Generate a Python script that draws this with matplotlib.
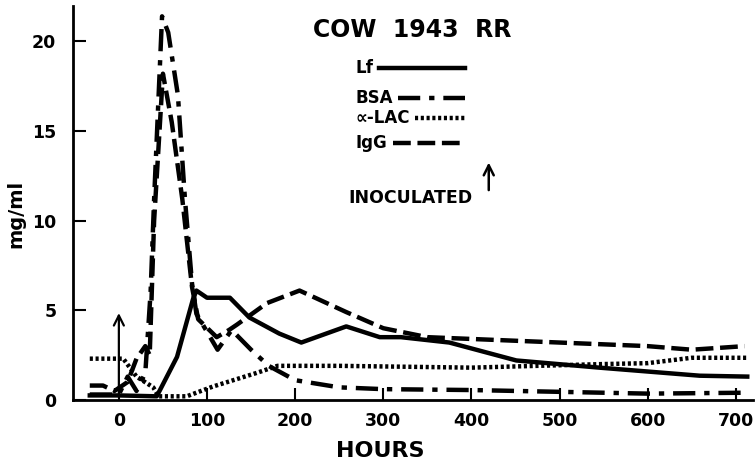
import matplotlib.pyplot as plt

# values (hours, mg/ml)
lf_h = [-33, 0, 43, 66, 84, 88, 100, 126, 148, 182, 207, 258, 296, 320, 375, 451, 545, 659, 713]
lf_v = [0.25, 0.25, 0.2, 2.4, 5.6, 6.1, 5.7, 5.7, 4.6, 3.7, 3.2, 4.1, 3.5, 3.5, 3.2, 2.2, 1.8, 1.35, 1.3]

bsa_h = [-33, 0, 10, 20, 30, 36, 40, 49, 56, 67, 75, 83, 88, 112, 128, 150, 170, 200, 250, 300, 400, 500, 600, 710]
bsa_v = [0.3, 0.3, 1.3, 0.5, 1.5, 6.0, 11.2, 21.4, 20.5, 17.0, 11.2, 6.5, 4.8, 2.8, 3.9, 2.8, 1.9, 1.1, 0.7, 0.6, 0.55, 0.45, 0.35, 0.4]

lac_h = [-33, 5, 20, 39, 45, 77, 107, 156, 180, 250, 400, 550, 600, 650, 713]
lac_v = [2.3, 2.3, 1.3, 0.7, 0.2, 0.2, 0.75, 1.5, 1.9, 1.9, 1.8, 2.0, 2.05, 2.35, 2.35]

igg_h = [-33, -18, -5, 10, 20, 30, 35, 40, 50, 60, 72, 83, 90, 111, 125, 134, 168, 205, 258, 300, 350, 400, 500, 600, 650, 710]
igg_v = [0.8, 0.8, 0.5, 1.0, 2.3, 3.0, 2.5, 10.0, 18.2, 15.5, 11.2, 6.3, 4.5, 3.5, 3.9, 4.2, 5.4, 6.1, 4.9, 4.0, 3.5, 3.4, 3.2, 3.0, 2.8, 3.0]

inoc_time = 0
inoc_height = 5

labels = ['Lf', 'BSA', '\u221d-LAC', 'IgG']

fig = plt.figure(figsize=(7.56, 4.65), dpi=100)
ax = fig.add_axes([0.0966, 0.14, 0.9, 0.848])

styles = [dict(ls='-'), dict(dashes=(5, 2, 1.2, 2)), dict(dashes=(0.7, 0.6)), dict(dashes=(4, 1.5))]
series = [(lf_h, lf_v), (bsa_h, bsa_v), (lac_h, lac_v), (igg_h, igg_v)]
for (h, v), st in zip(series, styles):
    ax.plot(h, v, color='black', lw=3.2, **st)

ax.annotate('', xy=(inoc_time, inoc_height), xytext=(inoc_time, 0),
            arrowprops=dict(arrowstyle='->', lw=1.6, color='black', mutation_scale=18))

ax.set_xlim(-52, 720)
ax.set_ylim(0, 22)
ax.set_xticks([0, 100, 200, 300, 400, 500, 600, 700])
ax.set_yticks([0, 5, 10, 15, 20])
for s in ['top', 'right']:
    ax.spines[s].set_visible(False)
for s in ['left', 'bottom']:
    ax.spines[s].set_linewidth(2)
ax.tick_params(direction='in', length=9, width=1.5, labelsize=12.5)
ax.tick_params(axis='x', pad=9)
ax.tick_params(axis='y', pad=12)
for t in ax.get_xticklabels() + ax.get_yticklabels():
    t.set_fontweight('bold')
ax.set_xlabel('HOURS', fontsize=16, fontweight='bold')
ax.xaxis.set_label_coords(0.451, -0.104)
ax.set_ylabel('mg/ml', fontsize=14, fontweight='bold')
ax.yaxis.set_label_coords(-0.07, 0.472)

ax.text(0.498, 0.939, 'COW  1943  RR', transform=ax.transAxes, ha='center', va='center',
        fontsize=17, fontweight='bold')

# hand-made key: label on the left, line sample running to a common right edge
key_x = 0.4156
key_end = 0.5756
key_y = [0.8426, 0.7665, 0.7157, 0.652]
renderer = fig.canvas.get_renderer()
inv = ax.transAxes.inverted()
for lab, st, y in zip(labels, styles, key_y):
    t = ax.text(key_x, y, lab, transform=ax.transAxes, ha='left', va='center',
                fontsize=12, fontweight='bold')
    bb = t.get_window_extent(renderer)
    x0 = inv.transform((bb.x1 + 5, 0))[0]
    ax.plot([x0, key_end], [y, y], transform=ax.transAxes, color='black', lw=3.2,
            clip_on=False, **st)

ax.text(0.587, 0.513, 'INOCULATED', transform=ax.transAxes, ha='right', va='center',
        fontsize=12.5, fontweight='bold')
ax.annotate('', xy=(0.611, 0.609), xytext=(0.611, 0.525), xycoords='axes fraction',
            arrowprops=dict(arrowstyle='->', lw=1.8, color='black', mutation_scale=18))

fig.savefig('out.png', dpi=100)
